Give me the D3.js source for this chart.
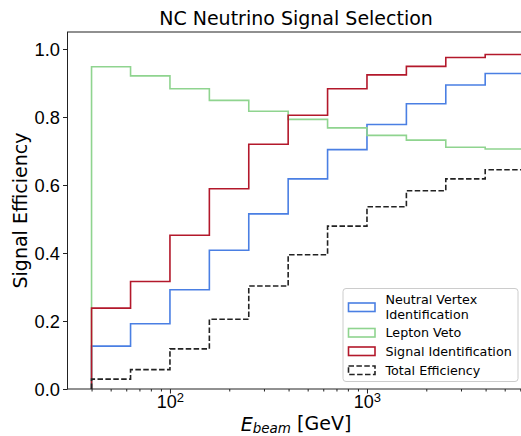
<!DOCTYPE html>
<meta charset="utf-8">
<style>
body { margin: 0; background: #fff; }
svg { font-family: "DejaVu Sans", sans-serif; }
.tick text { fill: #000; }
</style>
<body>
<svg width="521" height="436"></svg>
<script src="https://d3js.org/d3.v7.min.js"></script>
<script>
// bin edges in GeV (log spaced, 5 per decade)
var binEdges = [40, 63.1, 100, 158.5, 251.2, 398.1, 631, 1000, 1585, 2512, 3981, 6310];

var neutralVertex = [0.126, 0.192, 0.292, 0.408, 0.515, 0.618, 0.704, 0.778, 0.839, 0.894, 0.928];
var leptonVeto    = [0.948, 0.921, 0.883, 0.849, 0.817, 0.793, 0.768, 0.746, 0.732, 0.711, 0.706];
var signalId      = [0.238, 0.316, 0.452, 0.589, 0.720, 0.805, 0.883, 0.924, 0.949, 0.975, 0.984];
var totalEff      = [0.029, 0.057, 0.118, 0.205, 0.303, 0.395, 0.479, 0.536, 0.583, 0.618, 0.645];

var seriesNames = ["Neutral Vertex\nIdentification", "Lepton Veto", "Signal Identification", "Total Efficiency"];
var seriesColors = ["#4a7fe3", "#8fd48f", "#b3182b", "#222222"];
var yTicks = [0.0, 0.2, 0.4, 0.6, 0.8, 1.0];

var svg = d3.select("svg");
var axL = 67.5, axR = 524.6, axT = 32, axB = 389;

var x = d3.scaleLog().domain([30.2, 6310]).range([axL, axR]);
var y = d3.scaleLinear().domain([0, 1.05]).range([axB, axT]);

// step histograms
function stepPoints(vals) {
  var pts = [[binEdges[0], 0]];
  vals.forEach(function(v, i) {
    pts.push([binEdges[i], v]);
    pts.push([binEdges[i + 1], v]);
  });
  pts.push([binEdges[binEdges.length - 1], 0]);
  return pts;
}
var line = d3.line().x(function(d) { return x(d[0]); }).y(function(d) { return y(d[1]); });

var allSeries = [neutralVertex, leptonVeto, signalId, totalEff];
allSeries.forEach(function(vals, i) {
  svg.append("path")
    .attr("d", line(stepPoints(vals)))
    .attr("fill", "none")
    .attr("stroke", seriesColors[i])
    .attr("stroke-width", 1.6)
    .attr("stroke-dasharray", i == 3 ? "5.5,2.4" : null);
});

// frame
svg.append("rect")
  .attr("x", axL).attr("y", axT)
  .attr("width", axR - axL).attr("height", axB - axT)
  .attr("fill", "none").attr("stroke", "#222").attr("stroke-width", 1);

// y axis
var yAxis = svg.append("g")
  .attr("transform", "translate(" + axL + ",0)")
  .call(d3.axisLeft(y).tickValues(yTicks).tickFormat(d3.format(".1f")).tickSize(4.5).tickPadding(3));
yAxis.select(".domain").remove();
yAxis.selectAll("text").style("font-size", "18.3px").attr("dy", "0.36em");
yAxis.selectAll("line").attr("stroke", "#222");

// x axis: minor ticks
var minors = [];
[10, 100, 1000].forEach(function(dec) {
  for (var k = 2; k <= 9; k++) minors.push(k * dec);
});
minors = minors.filter(function(v) { return v > 30.2 && v < 6310; });
var xMinor = svg.append("g")
  .attr("transform", "translate(0," + axB + ")")
  .call(d3.axisBottom(x).tickValues(minors).tickFormat("").tickSize(2.5));
xMinor.select(".domain").remove();
xMinor.selectAll("line").attr("stroke", "#222");

var xMajor = svg.append("g")
  .attr("transform", "translate(0," + axB + ")")
  .call(d3.axisBottom(x).tickValues([100, 1000]).tickFormat("").tickSize(4.5));
xMajor.select(".domain").remove();
xMajor.selectAll("line").attr("stroke", "#222");
xMajor.selectAll(".tick text").remove();
xMajor.selectAll(".tick").each(function(d) {
  var t = d3.select(this).append("text")
    .attr("y", 19).attr("text-anchor", "middle")
    .style("font-size", "18px").attr("fill", "#000");
  t.append("tspan").text("10");
  t.append("tspan").attr("dy", "-0.45em").style("font-size", "13px").text(Math.round(Math.log10(d)));
});

// title
svg.append("text")
  .attr("x", (axL + axR) / 2).attr("y", 25)
  .attr("text-anchor", "middle").style("font-size", "19px")
  .text("NC Neutrino Signal Selection");

// y label
svg.append("text")
  .attr("transform", "translate(27," + ((axT + axB) / 2) + ") rotate(-90)")
  .attr("text-anchor", "middle").style("font-size", "19px")
  .text("Signal Efficiency");

// x label
var xl = svg.append("text")
  .attr("x", 296).attr("y", 431)
  .attr("text-anchor", "middle").style("font-size", "19px");
xl.append("tspan").style("font-style", "italic").text("E");
xl.append("tspan").style("font-style", "italic").style("font-size", "13.5px").attr("dy", "0.18em").text("beam");
xl.append("tspan").attr("dy", "-0.18em").text(" [GeV]");

// legend
var lg = svg.append("g").attr("transform", "translate(343,288.5)");
lg.append("rect")
  .attr("width", 175).attr("height", 93).attr("rx", 3)
  .attr("fill", "#fff").attr("fill-opacity", 0.8)
  .attr("stroke", "#cccccc").attr("stroke-width", 1);
var rowY = [18.5, 44, 62.5, 81.5];
seriesNames.forEach(function(name, i) {
  lg.append("rect")
    .attr("x", 5.5).attr("y", rowY[i] - 4)
    .attr("width", 26.5).attr("height", 8.5)
    .attr("fill", "none").attr("stroke", seriesColors[i]).attr("stroke-width", 1.6)
    .attr("stroke-dasharray", i == 3 ? "5.5,2.4" : null);
  var lines = name.split("\n");
  var t = lg.append("text").attr("x", 42.5).style("font-size", "12.7px");
  lines.forEach(function(s, j) {
    t.append("tspan").attr("x", 42.5)
      .attr("y", rowY[i] + (j - (lines.length - 1) / 2) * 14.5)
      .attr("dy", "0.36em").text(s);
  });
});
</script>
</body>
